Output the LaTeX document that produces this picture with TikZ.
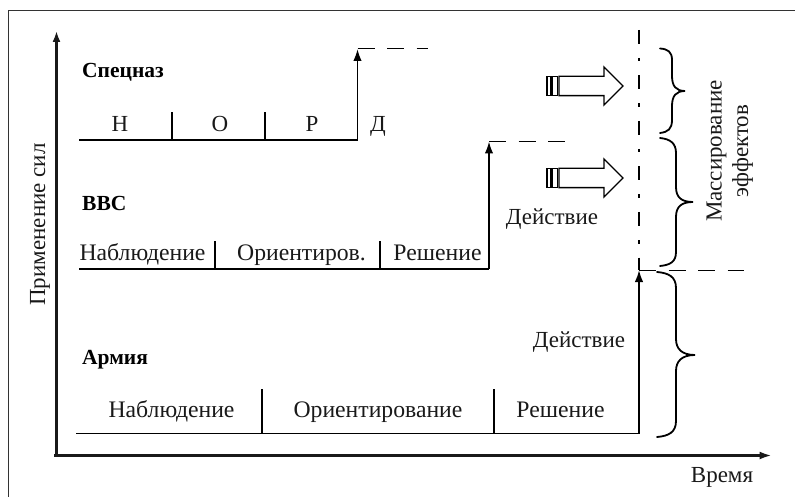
\documentclass[tikz,border=0pt]{standalone}
\usepackage{fontspec}
\setmainfont{Liberation Serif}
\usetikzlibrary{arrows.meta}
\tikzset{
  x=1pt,y=-1pt,
  lab/.style={anchor=base,inner sep=0pt,font=\fontsize{23}{25}\selectfont,text=black!90},
  labw/.style={anchor=base,inner sep=0pt,font=\fontsize{23.7}{25}\selectfont,text=black!90},
  head/.style={anchor=base west,inner sep=0pt,font=\fontsize{21.5}{25}\selectfont\bfseries,text=black},
  timeline/.style={line width=1.9pt,black},
  tick/.style={line width=1.5pt,black},
  rise/.style={line width=1.8pt,-{Latex[length=12pt,width=8.5pt]}},
  dashline/.style={line width=1pt,dash pattern=on 17pt off 12.5pt},
  dashdot/.style={line width=1.1pt,dash pattern=on 14pt off 14pt on 3.5pt off 14pt},
  bracepath/.style={line width=1.8pt,line cap=round},
  blockarrow/.style={line width=1.4pt,draw=black,fill=white,line join=miter},
  axis/.style={line width=2.1pt,black!90}
}
\begin{document}
\begin{tikzpicture}
\useasboundingbox (0,0) rectangle (795,497);
% frame
\coordinate (frA) at (8.5,497); \coordinate (frB) at (8.5,10.5); \coordinate (frC) at (795,10.5);
\draw[line width=0.9pt,black!80] (frA) -- (frB) -- (frC);
% axes
\coordinate (origin) at (56.5,456);
\coordinate (ytop) at (56.5,31);
\coordinate (xend) at (771.5,455.5);
\coordinate (ostart) at (54,455.5);
\draw[axis,-{Latex[length=11pt,width=8pt]}] (origin) -- (ytop);
\draw[axis,-{Latex[length=12pt,width=8pt]}] (ostart) -- (xend);
% Spetsnaz
\coordinate (s0) at (79,140); \coordinate (s1) at (172,140); \coordinate (s2) at (265,140); \coordinate (s3) at (357.5,140);
\coordinate (s1t) at (172,112); \coordinate (s2t) at (265,112);
\coordinate (s3t) at (357.5,49); \coordinate (s4) at (428,49);
\draw[timeline] (s0) -- (s3);
\draw[tick] (s1) -- (s1t); \draw[tick] (s2) -- (s2t);
\draw[rise] (s3) -- (s3t);
\draw[dashline] (s3t) -- (s4);
% VVS
\coordinate (v0) at (79,269); \coordinate (v1) at (215,269); \coordinate (v2) at (380,269); \coordinate (v3) at (489,269);
\coordinate (v1t) at (215,241); \coordinate (v2t) at (380,241);
\coordinate (v3t) at (489,141.5); \coordinate (v4) at (565,141.5);
\draw[timeline] (v0) -- (v3);
\draw[tick] (v1) -- (v1t); \draw[tick] (v2) -- (v2t);
\draw[rise] (v3) -- (v3t);
\draw[dashline] (v3t) -- (v4);
% Army
\coordinate (a0) at (76,433.5); \coordinate (a1) at (262,433.5); \coordinate (a2) at (494,433.5); \coordinate (a3) at (639,433.5);
\coordinate (a1t) at (262,389); \coordinate (a2t) at (494,389);
\coordinate (a3t) at (639,270); \coordinate (a4) at (744,270);
\draw[timeline] (a0) -- (a3);
\draw[tick] (a1) -- (a1t); \draw[tick] (a2) -- (a2t);
\draw[rise] (a3) -- (a3t);
\draw[dashline] (a3t) -- (a4);
% dash-dot
\coordinate (ddT) at (639,30);
\draw[dashdot] (ddT) -- (a3t);
% block arrows
\foreach \yy in {86,178}{
  \draw[blockarrow] (559,\yy-9.7) -- (604,\yy-9.7) -- (604,\yy-19) -- (623,\yy) -- (604,\yy+19) -- (604,\yy+9.7) -- (559,\yy+9.7) -- cycle;
  \draw[line width=1.2pt] (547,\yy-9.7) rectangle (551,\yy+9.7);
  \draw[line width=1.2pt] (552.7,\yy-9.7) rectangle (557.5,\yy+9.7);
}
% braces
\draw[bracepath] (660,48.5) .. controls (668,49) and (672,52) .. (672,60) -- (672,76) .. controls (672,86) and (676,91) .. (685,91) .. controls (676,91) and (672,96) .. (672,106) -- (672,120) .. controls (672,129) and (668,132) .. (660,133);
\draw[bracepath] (660,138) .. controls (670,139) and (676,143) .. (676,153) -- (676,187) .. controls (676,197) and (681,202) .. (693,202) .. controls (681,202) and (676,207) .. (676,217) -- (676,252) .. controls (676,262) and (670,265) .. (660,266);
\draw[bracepath] (657,272) .. controls (669,273) and (676,277) .. (676,288) -- (676,339) .. controls (676,349) and (682,355) .. (695,355) .. controls (682,355) and (676,361) .. (676,371) -- (676,421) .. controls (676,432) and (669,436) .. (657,437);
% headings
\node[head] (tS) at (82,78) {Спецназ};
\node[head] (tV) at (82,211) {ВВС};
\node[head] (tA) at (82,364) {Армия};
% labels
\node[lab] (n1) at (120,132) {Н};
\node[lab] (n2) at (220,132) {О};
\node[lab] (n3) at (312,132) {Р};
\node[lab] (n4) at (378,132) {Д};
\node[labw] (n5) at (142.5,260) {Наблюдение};
\node[labw] (n6) at (301.5,260) {Ориентиров.};
\node[labw] (n7) at (437.5,260) {Решение};
\node[labw] (n8) at (171.5,417) {Наблюдение};
\node[labw] (n9) at (378,417) {Ориентирование};
\node[labw] (n10) at (560.5,417) {Решение};
\node[lab] (d1) at (552,224.5) {Действие};
\node[lab] (d2) at (579,347.5) {Действие};
\node[lab] (tt) at (722,482) {Время};
\node[lab,rotate=90] (yl) at (45,224.5) {Применение сил};
\node[lab,rotate=90] (m1) at (721.5,151) {Массирование};
\node[lab,rotate=90] (m2) at (748,151) {эффектов};
\end{tikzpicture}
\end{document}
